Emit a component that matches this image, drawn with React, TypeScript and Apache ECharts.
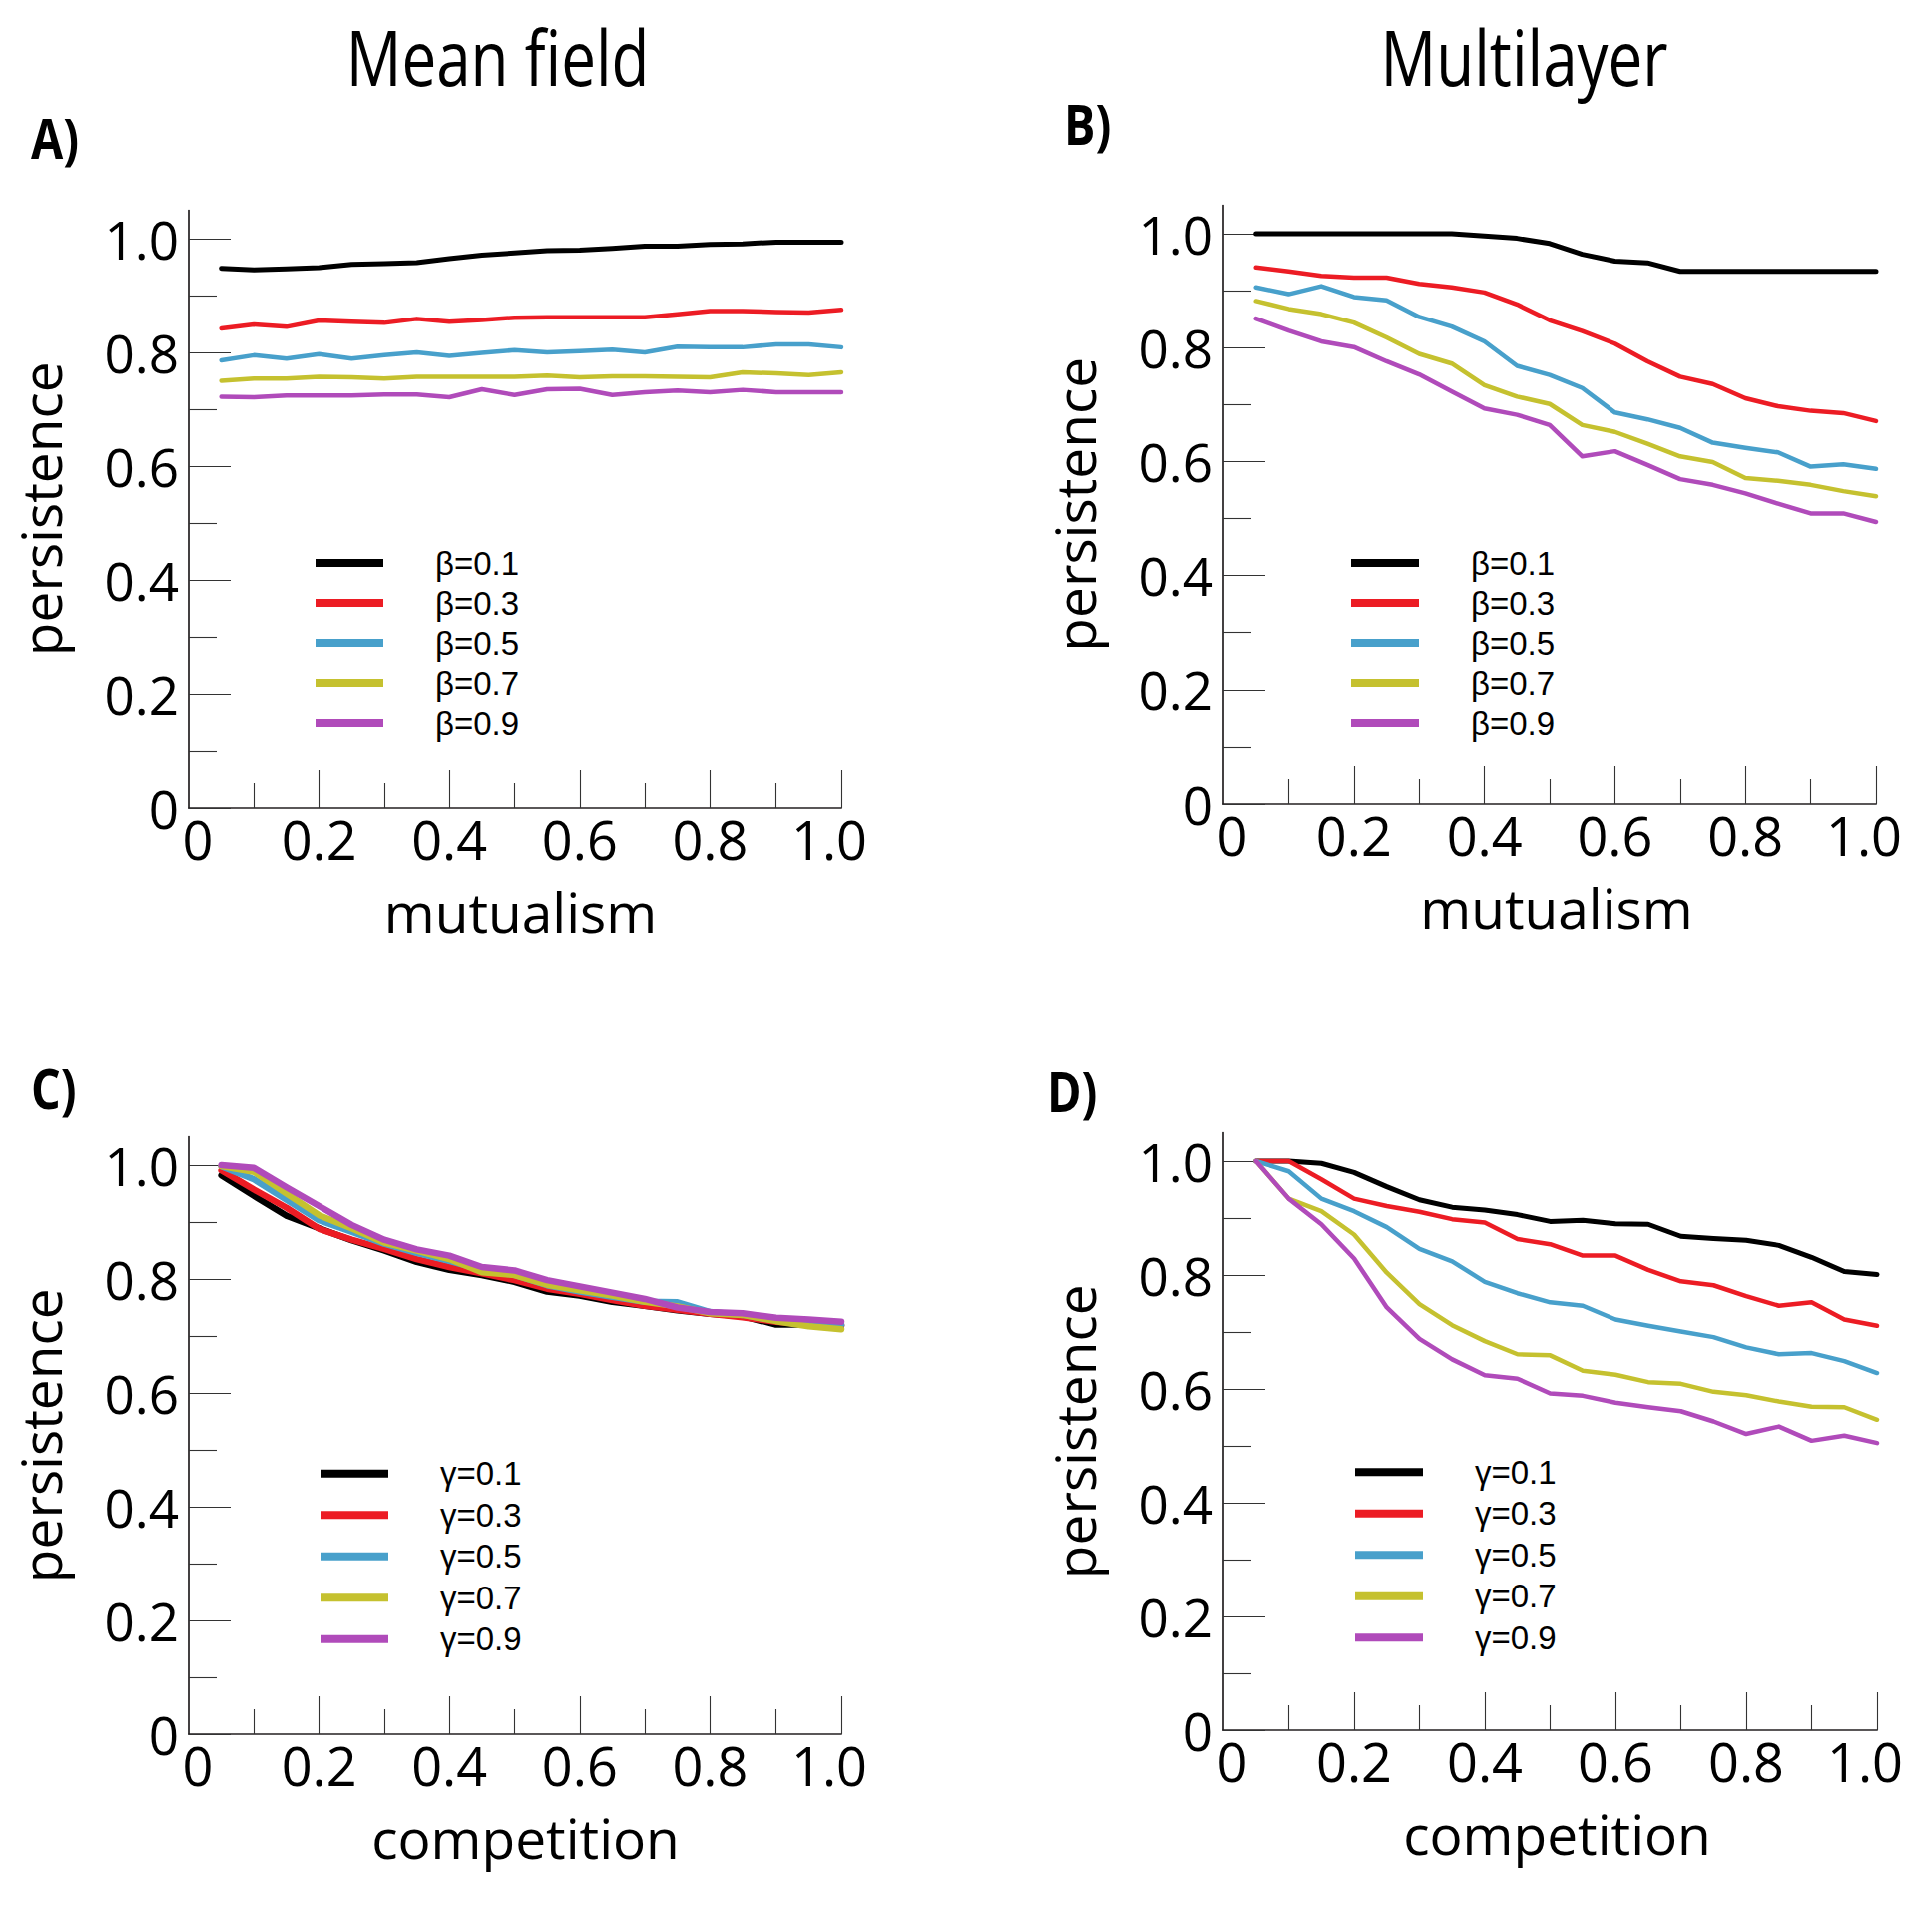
import React, { useEffect, useRef } from 'react';
import * as echarts from 'echarts';

// ---------- data ----------
const xValues = [0.05, 0.1, 0.15, 0.2, 0.25, 0.3, 0.35, 0.4, 0.45, 0.5, 0.55, 0.6, 0.65, 0.7, 0.75, 0.8, 0.85, 0.9, 0.95, 1.0];

const betaNames = ['β=0.1', 'β=0.3', 'β=0.5', 'β=0.7', 'β=0.9'];
const gammaNames = ['γ=0.1', 'γ=0.3', 'γ=0.5', 'γ=0.7', 'γ=0.9'];
const seriesColors = ['#000000', '#ec1c24', '#48a0cb', '#c5c12f', '#b04bba'];

const xTickLabels = [0, 0.2, 0.4, 0.6, 0.8, 1.0];
const yTickLabels = [0, 0.2, 0.4, 0.6, 0.8, 1.0];
const xMinorTicks = [0.1, 0.3, 0.5, 0.7, 0.9];
const xMajorTicks = [0.2, 0.4, 0.6, 0.8, 1.0];
const yMinorTicks = [0.1, 0.3, 0.5, 0.7, 0.9];

// A) Mean field, mutualism
const meanMutB01 = [0.948, 0.945, 0.947, 0.949, 0.955, 0.956, 0.958, 0.965, 0.971, 0.975, 0.979, 0.980, 0.983, 0.987, 0.987, 0.990, 0.991, 0.994, 0.994, 0.994];
const meanMutB03 = [0.842, 0.849, 0.845, 0.856, 0.854, 0.852, 0.859, 0.854, 0.857, 0.861, 0.862, 0.862, 0.862, 0.862, 0.867, 0.873, 0.873, 0.871, 0.870, 0.875];
const meanMutB05 = [0.786, 0.795, 0.789, 0.797, 0.789, 0.795, 0.800, 0.794, 0.799, 0.804, 0.800, 0.802, 0.805, 0.800, 0.810, 0.809, 0.809, 0.814, 0.814, 0.809];
const meanMutB07 = [0.750, 0.754, 0.754, 0.757, 0.756, 0.754, 0.757, 0.757, 0.757, 0.757, 0.759, 0.756, 0.758, 0.758, 0.757, 0.756, 0.765, 0.763, 0.760, 0.765];
const meanMutB09 = [0.722, 0.721, 0.724, 0.724, 0.724, 0.726, 0.726, 0.721, 0.735, 0.725, 0.735, 0.736, 0.725, 0.730, 0.733, 0.730, 0.734, 0.730, 0.730, 0.730];

// B) Multilayer, mutualism
const multiMutB01 = [1.0, 1.0, 1.0, 1.0, 1.0, 1.0, 1.0, 0.996, 0.992, 0.983, 0.964, 0.952, 0.949, 0.934, 0.934, 0.934, 0.934, 0.934, 0.934, 0.934];
const multiMutB03 = [0.941, 0.934, 0.926, 0.923, 0.923, 0.912, 0.906, 0.897, 0.876, 0.848, 0.829, 0.807, 0.776, 0.749, 0.736, 0.711, 0.697, 0.689, 0.685, 0.671];
const multiMutB05 = [0.906, 0.894, 0.908, 0.889, 0.883, 0.854, 0.837, 0.811, 0.768, 0.752, 0.729, 0.686, 0.674, 0.659, 0.633, 0.624, 0.616, 0.591, 0.595, 0.587];
const multiMutB07 = [0.882, 0.868, 0.859, 0.844, 0.818, 0.789, 0.772, 0.734, 0.714, 0.701, 0.664, 0.652, 0.631, 0.609, 0.599, 0.571, 0.566, 0.559, 0.548, 0.539];
const multiMutB09 = [0.851, 0.830, 0.811, 0.801, 0.776, 0.753, 0.723, 0.693, 0.682, 0.664, 0.609, 0.618, 0.594, 0.569, 0.559, 0.544, 0.526, 0.509, 0.509, 0.494];

// C) Mean field, competition
const meanCompG01 = [0.982, 0.946, 0.911, 0.889, 0.868, 0.850, 0.830, 0.816, 0.807, 0.795, 0.778, 0.771, 0.760, 0.753, 0.745, 0.739, 0.735, 0.720, 0.720, 0.718];
const meanCompG03 = [0.991, 0.957, 0.925, 0.888, 0.869, 0.853, 0.835, 0.821, 0.810, 0.798, 0.783, 0.774, 0.763, 0.753, 0.746, 0.739, 0.733, 0.725, 0.720, 0.719];
const meanCompG05 = [0.998, 0.975, 0.939, 0.903, 0.883, 0.862, 0.846, 0.832, 0.816, 0.807, 0.789, 0.778, 0.769, 0.760, 0.759, 0.742, 0.737, 0.727, 0.723, 0.720];
const meanCompG07 = [0.998, 0.988, 0.950, 0.912, 0.889, 0.864, 0.850, 0.835, 0.812, 0.807, 0.790, 0.780, 0.771, 0.760, 0.752, 0.740, 0.737, 0.726, 0.717, 0.712];
const meanCompG09 = [1.0, 0.995, 0.961, 0.928, 0.895, 0.869, 0.852, 0.841, 0.821, 0.815, 0.798, 0.787, 0.776, 0.765, 0.750, 0.742, 0.740, 0.732, 0.729, 0.725];

// D) Multilayer, competition
const multiCompG01 = [1.0, 1.0, 0.996, 0.980, 0.955, 0.932, 0.919, 0.914, 0.906, 0.894, 0.896, 0.890, 0.889, 0.868, 0.864, 0.861, 0.852, 0.831, 0.806, 0.801];
const multiCompG03 = [1.0, 1.0, 0.968, 0.934, 0.921, 0.911, 0.898, 0.892, 0.863, 0.854, 0.834, 0.834, 0.809, 0.789, 0.782, 0.763, 0.746, 0.752, 0.722, 0.711];
const multiCompG05 = [1.0, 0.982, 0.934, 0.912, 0.884, 0.846, 0.824, 0.788, 0.768, 0.752, 0.746, 0.722, 0.711, 0.701, 0.691, 0.673, 0.661, 0.663, 0.649, 0.628];
const multiCompG07 = [1.0, 0.934, 0.912, 0.871, 0.804, 0.749, 0.712, 0.684, 0.661, 0.659, 0.632, 0.625, 0.612, 0.609, 0.595, 0.589, 0.578, 0.569, 0.568, 0.546];
const multiCompG09 = [1.0, 0.934, 0.889, 0.829, 0.743, 0.688, 0.652, 0.624, 0.618, 0.592, 0.588, 0.576, 0.568, 0.561, 0.543, 0.521, 0.534, 0.509, 0.518, 0.505];

// ---------- layout ----------
const FONT = "'Open Sans', 'Noto Sans', sans-serif";
const LEGEND_FONT = "'Liberation Sans', Arial, sans-serif";

const panels = [
  {
    grid: { left: 189, top: 210.5, width: 653, height: 598.5 },
    names: betaNames, data: [meanMutB01, meanMutB03, meanMutB05, meanMutB07, meanMutB09],
    xName: 'mutualism', namePad: 12, width: 4.5, legend: { left: 316, top: 544, lh: 40 },
  },
  {
    grid: { left: 1225, top: 205.5, width: 654, height: 599.5 },
    names: betaNames, data: [multiMutB01, multiMutB03, multiMutB05, multiMutB07, multiMutB09],
    xName: 'mutualism', namePad: 14, width: 4.5, legend: { left: 1353, top: 544, lh: 40 },
  },
  {
    grid: { left: 189, top: 1138.5, width: 653, height: 598.5 },
    names: gammaNames, data: [meanCompG01, meanCompG03, meanCompG05, meanCompG07, meanCompG09],
    xName: 'competition', namePad: 22, width: 6.5, legend: { left: 321, top: 1455, lh: 41.5 },
  },
  {
    grid: { left: 1225, top: 1134.5, width: 655, height: 598.5 },
    names: gammaNames, data: [multiCompG01, multiCompG03, multiCompG05, multiCompG07, multiCompG09],
    xName: 'competition', namePad: 14, width: 4.5, legend: { left: 1357, top: 1453.5, lh: 41.5 },
  },
];

const axisColor = '#231f20';
const tickColor = '#333333';

function buildOption() {
  const grid: any[] = [];
  const xAxis: any[] = [];
  const yAxis: any[] = [];
  const series: any[] = [];
  const legend: any[] = [];

  panels.forEach((p, g) => {
    grid.push({ ...p.grid, containLabel: false });
    // main x axis
    xAxis.push({
      type: 'value', gridIndex: g, min: 0, max: 1, interval: 0.1, position: 'bottom',
      name: p.xName, nameLocation: 'middle', nameGap: 76,
      nameTextStyle: { fontFamily: FONT, fontSize: 55, color: '#000', padding: [0, 0, 0, p.namePad] },
      axisLine: { show: true, onZero: false, lineStyle: { color: axisColor, width: 1.7 } },
      axisTick: { show: true, inside: true, length: 38, customValues: xMajorTicks, lineStyle: { color: tickColor, width: 1.1 } },
      axisLabel: {
        show: true, customValues: xTickLabels, margin: 4, fontFamily: FONT, fontSize: 54, color: '#000',
        formatter: (v: number) => (v === 0 ? '{z|0}' : Math.abs(v - 1) < 1e-9 ? '{o|1.0}' : v.toFixed(1)),
        rich: {
          z: { fontFamily: FONT, fontSize: 54, color: '#000', padding: [0, 0, 0, 18] },
          o: { fontFamily: FONT, fontSize: 54, color: '#000', padding: [0, 24, 0, 0] },
        },
      },
      splitLine: { show: false },
    });
    // minor x ticks
    xAxis.push({
      type: 'value', gridIndex: g, min: 0, max: 1, interval: 0.1, position: 'bottom',
      axisLine: { show: false, onZero: false },
      axisTick: { show: true, inside: true, length: 25, customValues: xMinorTicks, lineStyle: { color: tickColor, width: 1.1 } },
      axisLabel: { show: false },
      splitLine: { show: false },
    });
    // main y axis
    yAxis.push({
      type: 'value', gridIndex: g, min: 0, max: 1.05, interval: 0.1, position: 'left',
      name: 'persistence', nameLocation: 'middle', nameGap: 121,
      nameTextStyle: { fontFamily: FONT, fontSize: 55, color: '#000' },
      axisLine: { show: true, onZero: false, lineStyle: { color: axisColor, width: 1.7 } },
      axisTick: { show: true, inside: true, length: 42, customValues: yTickLabels, lineStyle: { color: tickColor, width: 1.1 } },
      axisLabel: {
        show: true, customValues: yTickLabels, margin: 10, fontFamily: FONT, fontSize: 53, color: '#000',
        padding: [0, 0, 17, 0],
        formatter: (v: number) => (v === 0 ? '0' : v.toFixed(1)),
      },
      splitLine: { show: false },
    });
    // minor y ticks
    yAxis.push({
      type: 'value', gridIndex: g, min: 0, max: 1.05, interval: 0.1, position: 'left',
      axisLine: { show: false, onZero: false },
      axisTick: { show: true, inside: true, length: 28, customValues: yMinorTicks, lineStyle: { color: tickColor, width: 1.1 } },
      axisLabel: { show: false },
      splitLine: { show: false },
    });

    p.data.forEach((arr, i) => {
      series.push({
        type: 'line', name: p.names[i], xAxisIndex: 2 * g, yAxisIndex: 2 * g,
        data: xValues.map((x, k) => [x, arr[k]]),
        symbol: 'none', showSymbol: false,
        lineStyle: { color: seriesColors[i], width: i === 0 && p.width < 6 ? p.width + 0.5 : p.width, cap: 'round', join: 'round' },
        itemStyle: { color: seriesColors[i] },
        z: 2 + i,
      });
    });

    legend.push({
      data: p.names, orient: 'vertical', left: p.legend.left, top: p.legend.top,
      padding: 0, itemGap: 0, itemWidth: 68, itemHeight: 8, icon: 'rect', selectedMode: false,
      textStyle: { fontFamily: LEGEND_FONT, fontSize: 33, color: '#000', lineHeight: p.legend.lh, padding: [0, 0, 0, 47] },
    });
  });

  const titleStyle = (text: string) => ({
    text, fontFamily: FONT, fontSize: 76, fill: '#000',
    align: 'center', textAlign: 'center', verticalAlign: 'middle', textVerticalAlign: 'middle',
  });
  const letterStyle = (text: string) => ({
    text, fontFamily: FONT, fontSize: 55, fontWeight: 'bold', fill: '#000',
    align: 'left', textAlign: 'left', verticalAlign: 'middle', textVerticalAlign: 'middle',
  });

  const graphic = [
    { type: 'text', x: 498.6, y: 56, scaleX: 0.815, style: titleStyle('Mean field') },
    { type: 'text', x: 1526.6, y: 56, scaleX: 0.815, style: titleStyle('Multilayer') },
    { type: 'text', x: 31, y: 137, scaleX: 0.85, style: letterStyle('A)') },
    { type: 'text', x: 1066, y: 123, scaleX: 0.85, style: letterStyle('B)') },
    { type: 'text', x: 31, y: 1089, scaleX: 0.85, style: letterStyle('C)') },
    { type: 'text', x: 1049, y: 1092, scaleX: 0.85, style: letterStyle('D)') },
  ];

  return {
    animation: false,
    backgroundColor: '#ffffff',
    grid, xAxis, yAxis, series, legend, graphic,
  };
}

export default function App() {
  const ref = useRef<HTMLDivElement>(null);
  useEffect(() => {
    if (!ref.current) return;
    const chart = echarts.init(ref.current, undefined, { renderer: 'svg' });
    chart.setOption(buildOption() as any);
    return () => chart.dispose();
  }, []);
  return (
    <div
      ref={ref}
      style={{ position: 'absolute', left: 0, top: 0, width: 1935, height: 1909, background: '#fff' }}
    />
  );
}
